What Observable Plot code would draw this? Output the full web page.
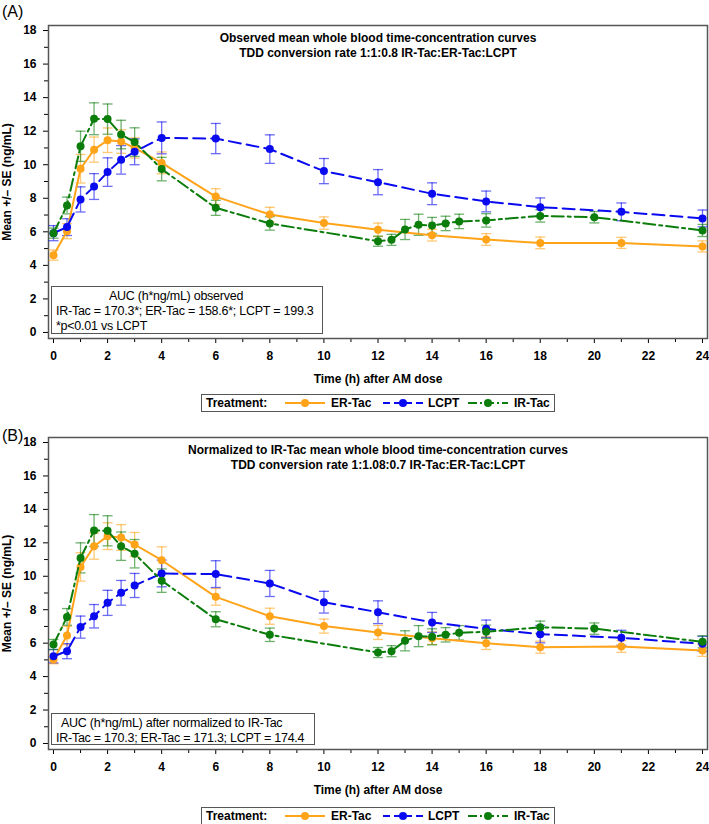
<!DOCTYPE html>
<html>
<head>
<meta charset="utf-8">
<script src="https://cdn.jsdelivr.net/npm/d3@7"></script>
<script src="https://cdn.jsdelivr.net/npm/@observablehq/plot@0.6"></script>
<style>
  html, body { margin: 0; padding: 0; background: #fff; }
  body { width: 709px; font-family: "Liberation Sans", Arial, sans-serif; color: #000; }
  .block { position: relative; width: 709px; }
  .plab { position: absolute; left: 2px; font-size: 16px; }
  .auc { position: absolute; border: 1.3px solid #555; background: #fff; box-sizing: border-box;
         font-size: 12.5px; letter-spacing: -0.25px; line-height: 15px; padding: 2px 0 0 4px; white-space: nowrap; }
  .legend { position: absolute; left: 201px; width: 354px; height: 18px; border: 1.3px solid #555;
            box-sizing: border-box; font-size: 12px; font-weight: bold; }
  .legend span, .legend svg { position: absolute; }
  .legend span { top: 1px; }
  .legend svg { top: 0px; }
</style>
</head>
<body>
<div id="root"></div>
<script>
// ---------------- data ----------------
const timeMain = [0, 0.5, 1, 1.5, 2, 2.5, 3, 4, 6, 8, 10, 12, 14, 16, 18, 21, 24];
const timeIR   = [0, 0.5, 1, 1.5, 2, 2.5, 3, 4, 6, 8, 12, 12.5, 13, 13.5, 14, 14.5, 15, 16, 18, 20, 24];

// Panel A: observed
const erMeanA   = [4.61, 6.04, 9.76, 10.9, 11.46, 11.38, 11.0, 10.11, 8.1, 7.03, 6.52, 6.12, 5.8, 5.54, 5.34, 5.34, 5.13];
const erSEA     = [0.3, 0.45, 0.85, 0.75, 0.73, 0.7, 0.6, 0.65, 0.47, 0.43, 0.37, 0.4, 0.35, 0.35, 0.35, 0.33, 0.33];
const lcptMeanA = [5.92, 6.28, 7.93, 8.7, 9.56, 10.29, 10.77, 11.6, 11.56, 10.93, 9.62, 8.96, 8.27, 7.81, 7.47, 7.19, 6.8];
const lcptSEA   = [0.45, 0.5, 0.75, 0.77, 0.85, 0.85, 0.77, 0.95, 0.9, 0.85, 0.75, 0.75, 0.65, 0.62, 0.55, 0.53, 0.5];
const irMeanA   = [5.92, 7.57, 11.1, 12.74, 12.72, 11.8, 11.35, 9.74, 7.43, 6.5, 5.44, 5.52, 6.14, 6.42, 6.38, 6.5, 6.62, 6.68, 6.95, 6.87, 6.08];
const irSEA     = [0.3, 0.5, 0.9, 0.95, 0.9, 0.85, 0.85, 0.7, 0.45, 0.4, 0.3, 0.33, 0.6, 0.63, 0.48, 0.43, 0.43, 0.4, 0.37, 0.34, 0.36];

// Panel B: normalized to IR-Tac
const erMeanB   = [5.02, 6.46, 10.56, 11.8, 12.4, 12.32, 11.9, 10.96, 8.77, 7.61, 7.02, 6.64, 6.3, 6.0, 5.76, 5.8, 5.56];
const erSEB     = [0.25, 0.55, 0.85, 0.78, 0.8, 0.77, 0.72, 0.8, 0.5, 0.48, 0.42, 0.42, 0.38, 0.38, 0.36, 0.35, 0.35];
const lcptMeanB = [5.22, 5.52, 6.96, 7.61, 8.41, 9.01, 9.45, 10.17, 10.13, 9.57, 8.45, 7.85, 7.24, 6.86, 6.54, 6.32, 5.96];
const lcptSEB   = [0.4, 0.45, 0.66, 0.7, 0.75, 0.74, 0.72, 0.8, 0.8, 0.78, 0.65, 0.68, 0.6, 0.52, 0.52, 0.45, 0.45];
const irMeanB   = irMeanA;
const irSEB     = irSEA;

const treatments = ["ER-Tac", "LCPT", "IR-Tac"];
const yMajor = [0, 2, 4, 6, 8, 10, 12, 14, 16, 18];
const yMinor = [1, 3, 5, 7, 9, 11, 13, 15, 17];
const xMajor = [0, 2, 4, 6, 8, 10, 12, 14, 16, 18, 20, 22, 24];
const xMinor = [1, 3, 5, 7, 9, 11, 13, 15, 17, 19, 21, 23];

const titleA = ["Observed mean whole blood time-concentration curves", "TDD conversion rate 1:1:0.8 IR-Tac:ER-Tac:LCPT"];
const titleB = ["Normalized to IR-Tac mean whole blood time-concentration curves", "TDD conversion rate 1:1.08:0.7 IR-Tac:ER-Tac:LCPT"];
const aucA = ["AUC (h*ng/mL) observed", "IR-Tac = 170.3*; ER-Tac = 158.6*; LCPT = 199.3", "*p<0.01 vs LCPT"];
const aucB = ["AUC (h*ng/mL) after normalized to IR-Tac", "IR-Tac = 170.3; ER-Tac = 171.3; LCPT = 174.4"];

// ---------------- styles ----------------
const styles = {
  "ER-Tac": {color: "#FFA319", dash: null},
  "LCPT":   {color: "#0A0AF0", dash: "12,6"},
  "IR-Tac": {color: "#0B7D0B", dash: "12,4,3,4"}
};

function rows(t, m, s) {
  return t.map((x, i) => ({t: x, m: m[i], lo: m[i] - s[i], hi: m[i] + s[i]}));
}

const capSymbol = {
  draw(ctx, size) {
    const r = Math.sqrt(size / Math.PI);
    ctx.moveTo(-r, 0); ctx.lineTo(r, 0);
  }
};

function seriesMarks(name, data) {
  const st = styles[name];
  return [
    Plot.ruleX(data, {x: "t", y1: "lo", y2: "hi", stroke: st.color, strokeOpacity: 0.6, strokeWidth: 1.3}),
    Plot.dot(data, {x: "t", y: "lo", symbol: capSymbol, r: 5, stroke: st.color, strokeOpacity: 0.6, strokeWidth: 1.3, fill: "none"}),
    Plot.dot(data, {x: "t", y: "hi", symbol: capSymbol, r: 5, stroke: st.color, strokeOpacity: 0.6, strokeWidth: 1.3, fill: "none"})
  ];
}
function lineMarks(name, data) {
  const st = styles[name];
  return [
    Plot.line(data, {x: "t", y: "m", stroke: st.color, strokeWidth: 2, strokeDasharray: st.dash}),
    Plot.dot(data, {x: "t", y: "m", r: 4, fill: st.color, stroke: "none"})
  ];
}

function panel({er, lcpt, ir, title, height, marginTop}) {
  return Plot.plot({
    width: 709, height, marginLeft: 48, marginRight: 2, marginTop, marginBottom: 50,
    style: {fontFamily: "'Liberation Sans', Arial, sans-serif", fontSize: "12px", fontWeight: "bold", color: "#000", background: "#fff", overflow: "visible"},
    x: {domain: [-0.185, 24.185]},
    y: {domain: [-0.36, 18.3]},
    marks: [
      Plot.axisY({ticks: yMajor, tickSize: 5, tickPadding: 7, tickFormat: d => d, label: "Mean +/– SE (ng/mL)", labelAnchor: "center", labelArrow: "none", labelOffset: 46}),
      Plot.axisY({ticks: yMinor, tickSize: 4, tickFormat: () => "", label: null}),
      Plot.axisX({ticks: xMajor, tickSize: 5, tickPadding: 8, tickFormat: d => d, label: "Time (h) after AM dose", labelAnchor: "center", labelArrow: "none", labelOffset: 44}),
      Plot.axisX({ticks: xMinor, tickSize: 4, tickFormat: () => "", label: null}),
      Plot.frame({stroke: "#555", strokeWidth: 1.5}),
      Plot.text([title.join("\n")], {text: d => d, frameAnchor: "top", lineAnchor: "top", dy: 6, lineHeight: 1.25, fontSize: 12, fontWeight: "bold"}),
      ...seriesMarks("ER-Tac", er), ...seriesMarks("LCPT", lcpt), ...seriesMarks("IR-Tac", ir),
      ...lineMarks("ER-Tac", er), ...lineMarks("LCPT", lcpt), ...lineMarks("IR-Tac", ir)
    ]
  });
}

function legend(top) {
  const div = document.createElement("div");
  div.className = "legend";
  div.style.top = top + "px";
  const items = [
    {text: "Treatment:", left: 4},
    {sample: "ER-Tac", left: 82}, {text: "ER-Tac", left: 129},
    {sample: "LCPT", left: 180}, {text: "LCPT", left: 226},
    {sample: "IR-Tac", left: 265}, {text: "IR-Tac", left: 312}
  ];
  for (const it of items) {
    if (it.text) {
      const s = document.createElement("span");
      s.textContent = it.text; s.style.left = it.left + "px";
      div.appendChild(s);
    } else {
      const st = styles[it.sample];
      const ns = "http://www.w3.org/2000/svg";
      const svg = document.createElementNS(ns, "svg");
      svg.setAttribute("width", 42); svg.setAttribute("height", 16);
      svg.style.left = it.left + "px";
      const ln = document.createElementNS(ns, "line");
      ln.setAttribute("x1", 1); ln.setAttribute("x2", 41); ln.setAttribute("y1", 8); ln.setAttribute("y2", 8);
      ln.setAttribute("stroke", st.color); ln.setAttribute("stroke-width", 2);
      if (st.dash) ln.setAttribute("stroke-dasharray", st.dash === "12,6" ? "7,4" : "9,3,2,3");
      const c = document.createElementNS(ns, "circle");
      c.setAttribute("cx", 21); c.setAttribute("cy", 8); c.setAttribute("r", 4); c.setAttribute("fill", st.color);
      svg.appendChild(ln); svg.appendChild(c);
      div.appendChild(svg);
    }
  }
  return div;
}

function aucBox(lines, left, top, width, height, firstIndent) {
  const div = document.createElement("div");
  div.className = "auc";
  Object.assign(div.style, {left: left + "px", top: top + "px", width: width + "px", height: height + "px"});
  lines.forEach((l, i) => {
    const p = document.createElement("div");
    p.textContent = l;
    if (i === 0) p.style.paddingLeft = firstIndent + "px";
    div.appendChild(p);
  });
  return div;
}

const root = document.getElementById("root");

// Panel A
const blockA = document.createElement("div");
blockA.className = "block"; blockA.style.height = "414px";
blockA.appendChild(panel({
  er: rows(timeMain, erMeanA, erSEA), lcpt: rows(timeMain, lcptMeanA, lcptSEA), ir: rows(timeIR, irMeanA, irSEA),
  title: titleA, height: 388, marginTop: 25
}));
const labA = document.createElement("div"); labA.className = "plab"; labA.textContent = "(A)"; labA.style.top = "3px";
blockA.appendChild(labA);
blockA.appendChild(aucBox(aucA, 51, 286, 272, 48, 53));
blockA.appendChild(legend(394));
root.appendChild(blockA);

// Panel B
const blockB = document.createElement("div");
blockB.className = "block"; blockB.style.height = "410px";
blockB.appendChild(panel({
  er: rows(timeMain, erMeanB, erSEB), lcpt: rows(timeMain, lcptMeanB, lcptSEB), ir: rows(timeIR, irMeanB, irSEB),
  title: titleB, height: 385, marginTop: 23
}));
const labB = document.createElement("div"); labB.className = "plab"; labB.textContent = "(B)"; labB.style.top = "13px";
blockB.appendChild(labB);
blockB.appendChild(aucBox(aucB, 51, 299, 264, 32, 5));
blockB.appendChild(legend(393));
root.appendChild(blockB);
</script>
</body>
</html>
